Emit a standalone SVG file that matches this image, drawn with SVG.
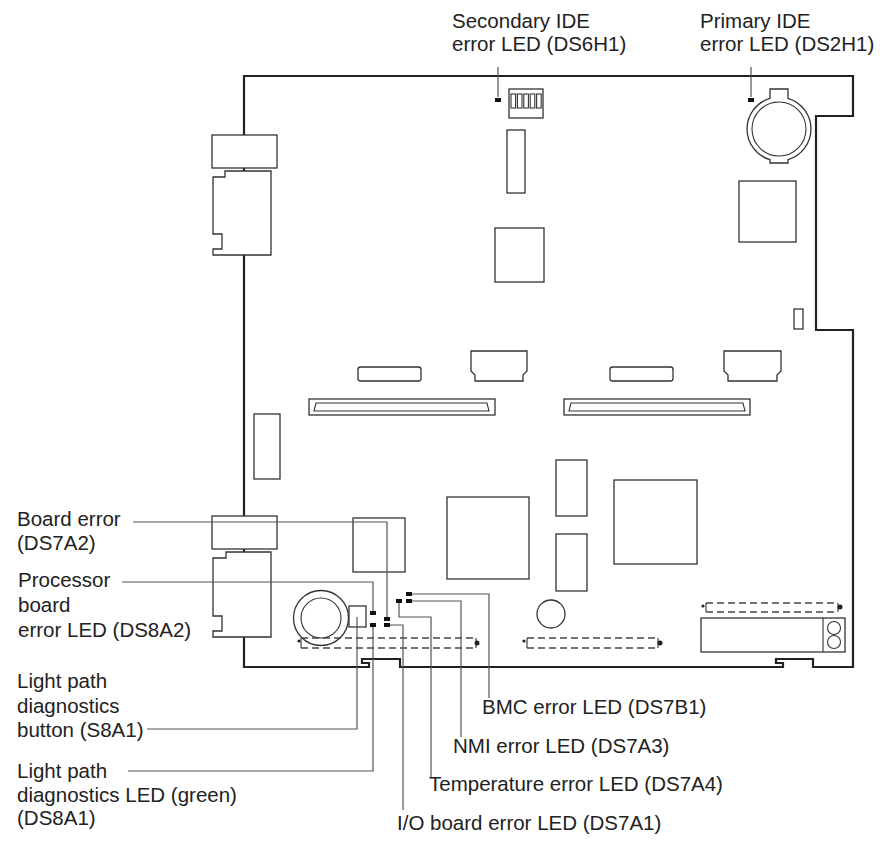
<svg xmlns="http://www.w3.org/2000/svg" width="888" height="844" viewBox="0 0 888 844">
<style>
.board{fill:none;stroke:#222;stroke-width:2.2;stroke-linejoin:miter}
.part{fill:#fff;stroke:#333;stroke-width:1.3}
.thin{fill:none;stroke:#333;stroke-width:1.1}
.lead{fill:none;stroke:#555;stroke-width:1.2}
.led{fill:#111}
.dash{fill:none;stroke:#444;stroke-width:1.3;stroke-dasharray:7 4}
.dot{fill:#222}
text{font-family:"Liberation Sans",Arial,Helvetica,sans-serif;font-size:20.5px;fill:#222}
</style>
<rect width="888" height="844" fill="#fff"/>

<g id="board">
<path class="board" d="M244,667 V76 H853 V116 H816 V330 H853 V667 H813 V659 H776 V663 H783 V667 H400 V659 H362 V663 H369 V667 Z"/>
</g>

<g id="left-connectors-top">
<rect class="part" x="212" y="135" width="65" height="33"/>
<path class="part" d="M225,171 H271 V255 H213 V249 H222 V234 H213 V177 H225 Z"/>
</g>
<g id="left-connectors-bottom">
<rect class="part" x="212" y="516" width="65" height="33"/>
<path class="part" d="M226,552 H271 V637 H213 V631 H222 V616 H213 V558 H226 Z"/>
</g>

<g id="dip-switch">
<rect class="part" x="509" y="89" width="34" height="29"/>
<rect class="thin" x="511" y="94" width="4.6" height="14"/>
<rect class="thin" x="517.4" y="94" width="4.6" height="14"/>
<rect class="thin" x="523.8" y="94" width="4.6" height="14"/>
<rect class="thin" x="530.2" y="94" width="4.6" height="14"/>
<rect class="thin" x="536.6" y="94" width="4.6" height="14"/>
</g>

<g id="battery-top">
<path class="part" d="M770,98.3 V89 H788 V98.3 A32,32 0 0 1 788,159.7 V163 H770 V159.7 A32,32 0 0 1 770,98.3 Z"/>
<circle class="thin" cx="779" cy="129" r="27"/>
</g>

<g id="chips">
<rect class="part" x="507" y="130" width="18" height="63"/>
<rect class="part" x="495" y="228" width="49" height="54"/>
<rect class="part" x="739" y="181" width="57" height="61"/>
<rect class="part" x="794" y="309" width="9" height="20"/>
<rect class="part" x="254" y="414" width="26" height="65"/>
<rect class="part" x="447" y="497" width="82" height="82"/>
<rect class="part" x="556" y="460" width="31" height="56"/>
<rect class="part" x="556" y="534" width="31" height="57"/>
<rect class="part" x="614" y="480" width="83" height="84"/>
<rect class="part" x="353" y="518" width="52" height="54"/>
<circle class="part" cx="551" cy="614" r="14"/>
</g>

<g id="slots-left">
<rect class="part" x="358" y="367" width="63" height="14" rx="2.5"/>
<path class="part" d="M471,351 H527 V371 L523,375 V381 H475 V375 L471,371 Z"/>
<rect class="part" x="309" y="399" width="186" height="16"/>
<path class="thin" d="M316,403 H487 L489,411 H314 Z"/>
</g>
<g id="slots-right">
<rect class="part" x="610" y="367" width="63" height="14" rx="2.5"/>
<path class="part" d="M724,351 H781 V371 L777,375 V381 H728 V375 L724,371 Z"/>
<rect class="part" x="564" y="399" width="186" height="16"/>
<path class="thin" d="M571,403 H743 L745,411 H569 Z"/>
</g>

<g id="battery-bottom">
<circle class="part" cx="321" cy="618" r="27.5"/>
<circle class="thin" cx="321" cy="618" r="20"/>
</g>

<g id="dashed-connectors">
<path class="dash" d="M301,638 H476 M301,648 H476"/>
<path class="thin" d="M301,638 V648 M476,638 V648"/>
<circle class="dot" cx="299" cy="641" r="1.6"/>
<circle class="dot" cx="477" cy="643" r="2.5"/>
<path class="dash" d="M527,638 H658 M527,648 H658"/>
<path class="thin" d="M527,638 V648 M658,638 V648"/>
<circle class="dot" cx="524" cy="641" r="1.6"/>
<circle class="dot" cx="660" cy="643" r="2.5"/>
<path class="dash" d="M706,603 H838 M706,612 H838"/>
<path class="thin" d="M706,603 V612 M838,603 V612"/>
<circle class="dot" cx="703" cy="606" r="1.6"/>
<circle class="dot" cx="840" cy="607" r="2.5"/>
</g>

<g id="terminal-block">
<rect class="part" x="701" y="618" width="144" height="34"/>
<line class="thin" x1="823" y1="618" x2="823" y2="652"/>
<circle class="thin" cx="834" cy="628" r="6.5"/>
<circle class="thin" cx="834" cy="642" r="6.5"/>
</g>

<g id="button-s8a1">
<rect class="part" x="349" y="606" width="17" height="21"/>
</g>

<g id="connectors">
<path class="lead" d="M498,67 V97"/>
<path class="lead" d="M751,67 V97"/>
<path class="lead" d="M133,522 H387 V617"/>
<path class="lead" d="M122,582 H373 V611"/>
<path class="lead" d="M147,729 H357 V617"/>
<path class="lead" d="M128,771 H373 V625"/>
<path class="lead" d="M390,625 H403 V810"/>
<path class="lead" d="M399,601 V617 H431 V777"/>
<path class="lead" d="M410,601 H461 V737"/>
<path class="lead" d="M410,594 H489 V698"/>
</g>

<g id="leds">
<rect class="led" x="495" y="98" width="6" height="4"/>
<rect class="led" x="748" y="98" width="6" height="4"/>
<rect class="led" x="370" y="611" width="6" height="4"/>
<rect class="led" x="370" y="623" width="6" height="4"/>
<rect class="led" x="384" y="617" width="6" height="4"/>
<rect class="led" x="384" y="623" width="6" height="4"/>
<rect class="led" x="396" y="599" width="6" height="4"/>
<rect class="led" x="406" y="599" width="6" height="4"/>
<rect class="led" x="406" y="592" width="6" height="4"/>
</g>

<g id="labels">
<text x="452" y="28">Secondary IDE</text>
<text x="452" y="51">error LED (DS6H1)</text>
<text x="700" y="28">Primary IDE</text>
<text x="700" y="51">error LED (DS2H1)</text>
<text x="17" y="526">Board error</text>
<text x="17" y="550">(DS7A2)</text>
<text x="18" y="587">Processor</text>
<text x="18" y="612">board</text>
<text x="18" y="637">error LED (DS8A2)</text>
<text x="17" y="688">Light path</text>
<text x="17" y="713">diagnostics</text>
<text x="17" y="737">button (S8A1)</text>
<text x="17" y="778">Light path</text>
<text x="17" y="802">diagnostics LED (green)</text>
<text x="17" y="825">(DS8A1)</text>
<text x="482" y="714">BMC error LED (DS7B1)</text>
<text x="453" y="753">NMI error LED (DS7A3)</text>
<text x="429" y="791">Temperature error LED (DS7A4)</text>
<text x="397" y="830">I/O board error LED (DS7A1)</text>
</g>
</svg>
